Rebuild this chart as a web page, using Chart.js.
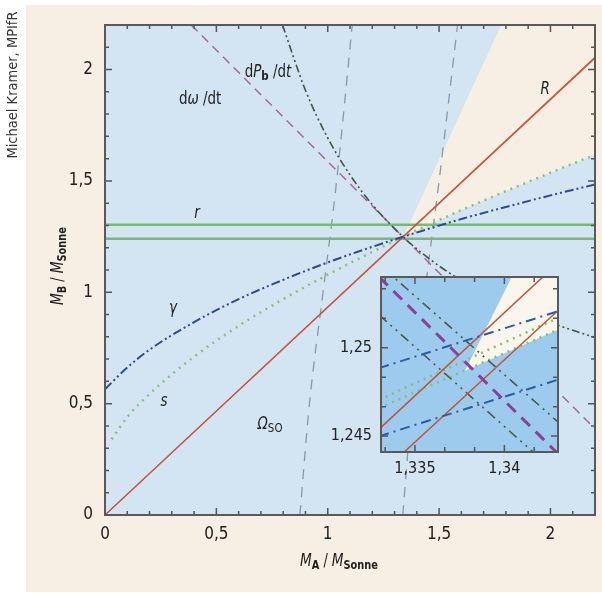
<!DOCTYPE html>
<html><head><meta charset="utf-8">
<script src="https://cdn.jsdelivr.net/npm/chart.js@4.4.1/dist/chart.umd.min.js"></script>
<style>
html,body{margin:0;padding:0;background:#fff;}
#wrap{position:relative;width:602px;height:593px;}
#main{position:absolute;left:0;top:0;}
#inset{position:absolute;left:320px;top:267px;}
</style></head><body>
<div id="wrap"><canvas id="main" width="602" height="593"></canvas><canvas id="inset" width="250" height="215"></canvas></div>
<script>
// ---- axes ----
const xTickVals = [0, 0.5, 1, 1.5, 2];
const yTickVals = [0, 0.5, 1, 1.5, 2];
const insetXTicks = [1.335, 1.34];
const insetYTicks = [1.245, 1.25];

// ---- main diagram curves (M_A, M_B) ----
const rUpperX = [0, 2.2], rUpperY = [1.303, 1.303];
const rLowerX = [0, 2.2], rLowerY = [1.240, 1.240];
const bigR1X = [0, 2.2], bigR1Y = [0, 2.0556];
const bigR2X = [0, 2.2], bigR2Y = [0, 2.0511];
const omegaX = [0.387, 2.2], omegaY = [2.2, 0.387];
const pbX = [0.797, 0.9, 1.0, 1.1, 1.2, 1.338, 1.5, 1.7, 1.9, 2.1, 2.2];
const pbY = [2.2, 1.907, 1.693, 1.527, 1.394, 1.249, 1.118, 0.998, 0.903, 0.829, 0.797];
const gammaX = [0, 0.1, 0.2, 0.4, 0.6, 0.8, 1.0, 1.2, 1.338, 1.6, 1.8, 2.0, 2.2];
const gammaY = [0.565, 0.662, 0.742, 0.866, 0.969, 1.056, 1.134, 1.204, 1.249, 1.329, 1.383, 1.435, 1.484];
const sX = [0.03, 0.1, 0.2, 0.4, 0.6, 0.8, 1.0, 1.2, 1.338, 1.6, 1.8, 2.0, 2.2];
const sY = [0.34, 0.44, 0.543, 0.711, 0.849, 0.969, 1.079, 1.181, 1.249, 1.369, 1.454, 1.537, 1.617];
const so1X = [0.875, 0.918, 0.979, 1.04, 1.11], so1Y = [0, 0.5, 1.0, 1.5, 2.2];
const so2X = [1.337, 1.378, 1.436, 1.50, 1.583], so2Y = [0, 0.5, 1.0, 1.5, 2.2];
const wedgeX = [1.340, 1.779, 2.2, 2.2, 2.0, 1.8, 1.6, 1.45, 1.340];
const wedgeY = [1.250, 2.2, 2.2, 1.617, 1.537, 1.454, 1.369, 1.300, 1.250];

// ---- inset (zoom around the crossing) ----
const inR1X = [1.333, 1.343], inR1Y = [1.2454, 1.2548];
const inR2X = [1.333, 1.343], inR2Y = [1.2428, 1.2521];
const inOmX = [1.333, 1.343], inOmY = [1.254, 1.244];
const inPbAX = [1.333, 1.343], inPbAY = [1.25471, 1.2458];
const inPbBX = [1.333, 1.343], inPbBY = [1.25185, 1.24284];
const inGamAX = [1.333, 1.343], inGamAY = [1.24885, 1.25206];
const inGamBX = [1.333, 1.343], inGamBY = [1.24499, 1.24819];
const inSAX = [1.333, 1.343], inSAY = [1.24706, 1.25168];
const inSBX = [1.333, 1.343], inSBY = [1.24659, 1.25102];
const inWedgeX = [1.3378, 1.34041, 1.343, 1.343, 1.3378];
const inWedgeY = [1.2487, 1.254, 1.254, 1.25102, 1.2487];

const FF = "'Liberation Sans Narrow','DejaVu Sans Condensed',Roboto,sans-serif";
Chart.defaults.font.family = FF;
const it = s => `italic ${s}px ${FF}`, rg = s => `${s}px ${FF}`, bd = s => `bold ${s}px ${FF}`;

const pts = (xs, ys) => xs.map((x, i) => ({x, y: ys[i]}));
const line = (xs, ys, color, w, dash, order, smooth) => ({
    data: pts(xs, ys), showLine: true, borderColor: color, borderWidth: w, borderDash: dash || [],
    pointRadius: 0, fill: false, order, tension: 0,
    cubicInterpolationMode: smooth ? 'monotone' : 'default'
});
const comma = v => String(v).replace('.', ',');
// keep the plot box where the layout padding puts it (labels are not at the ends)
const noPad = s => { s.paddingTop = 0; s.paddingBottom = 0; };

// text with italic / subscript pieces, slightly condensed like the original face
function rich(ctx, segs, x, y, rot, squeeze) {
    ctx.save(); ctx.translate(x, y); ctx.rotate(rot || 0); ctx.scale(squeeze || 0.88, 1);
    let w = 0;
    segs.forEach(s => { ctx.font = s.f; w += ctx.measureText(s.t).width; });
    let cx = -w / 2;
    ctx.textBaseline = 'alphabetic'; ctx.textAlign = 'left';
    segs.forEach(s => { ctx.font = s.f; ctx.fillText(s.t, cx, s.dy || 0); cx += ctx.measureText(s.t).width; });
    ctx.restore();
}

function frameTicks(ctx, c, xs, ys, minor, major) {
    const a = c.chartArea, sx = c.scales.x, sy = c.scales.y;
    ctx.save(); ctx.strokeStyle = '#555'; ctx.lineWidth = 1.5;
    xs.forEach(t => {
        const p = sx.getPixelForValue(t.v), l = t.m ? major : minor;
        ctx.beginPath(); ctx.moveTo(p, a.bottom); ctx.lineTo(p, a.bottom - l);
        ctx.moveTo(p, a.top); ctx.lineTo(p, a.top + l); ctx.stroke();
    });
    ys.forEach(t => {
        const p = sy.getPixelForValue(t.v), l = t.m ? major : minor;
        ctx.beginPath(); ctx.moveTo(a.left, p); ctx.lineTo(a.left + l, p);
        ctx.moveTo(a.right, p); ctx.lineTo(a.right - l, p); ctx.stroke();
    });
    ctx.lineWidth = 2; ctx.strokeStyle = '#595959';
    ctx.strokeRect(a.left, a.top, a.right - a.left, a.bottom - a.top);
    ctx.restore();
}

const mainDeco = {
    id: 'mainDeco',
    beforeDraw(c) {
        const {ctx, chartArea: a} = c;
        ctx.save();
        ctx.fillStyle = '#fff'; ctx.fillRect(0, 0, c.width, c.height);
        ctx.fillStyle = '#f7efe3'; ctx.fillRect(26, 5, 576, 587);
        ctx.fillStyle = '#d3e4f2'; ctx.fillRect(a.left, a.top, a.right - a.left, a.bottom - a.top);
        ctx.restore();
    },
    afterDatasetsDraw(c) {
        const ctx = c.ctx, sx = c.scales.x, sy = c.scales.y;
        const ticks = [];
        for (let k = 0; k <= 22; k++) ticks.push({v: k / 10, m: k % 5 === 0});
        frameTicks(ctx, c, ticks, ticks, 4, 7);
        ctx.save(); ctx.fillStyle = '#222';
        const at = (x, y) => [sx.getPixelForValue(x), sy.getPixelForValue(y) + 6];
        rich(ctx, [{t: 'd', f: rg(17)}, {t: 'ω', f: it(17)}, {t: ' /dt', f: rg(17)}], ...at(0.427, 1.872));
        rich(ctx, [{t: 'd', f: rg(17)}, {t: 'P', f: it(17)}, {t: 'b', f: bd(13), dy: 3}, {t: ' /d', f: rg(17)}, {t: 't', f: it(17)}], ...at(0.732, 1.994));
        rich(ctx, [{t: 'r', f: it(17)}], ...at(0.413, 1.361));
        rich(ctx, [{t: 'R', f: it(17)}], ...at(1.976, 1.917));
        rich(ctx, [{t: 'γ', f: it(17)}], ...at(0.305, 0.934));
        rich(ctx, [{t: 's', f: it(17)}], ...at(0.265, 0.516));
        rich(ctx, [{t: 'Ω', f: it(17)}, {t: 'SO', f: rg(13), dy: 3}], ...at(0.741, 0.413));
        // axis titles
        rich(ctx, [{t: 'M', f: it(18)}, {t: 'A', f: bd(13), dy: 3}, {t: ' / ', f: rg(17)}, {t: 'M', f: it(18)}, {t: 'Sonne', f: bd(13), dy: 3}], 339, 566, 0, 0.84);
        rich(ctx, [{t: 'M', f: it(18)}, {t: 'B', f: bd(13), dy: 3}, {t: ' / ', f: rg(17)}, {t: 'M', f: it(18)}, {t: 'Sonne', f: bd(13), dy: 3}], 63, 266, -Math.PI / 2, 0.84);
        ctx.fillStyle = '#333';
        rich(ctx, [{t: 'Michael Kramer, MPIfR', f: rg(14.5)}], 17, 85, -Math.PI / 2, 1);
        ctx.restore();
    }
};

new Chart(document.getElementById('main'), {
    type: 'scatter',
    data: {
        datasets: [
            Object.assign(line(wedgeX, wedgeY, 'rgba(0,0,0,0)', 0, [], 10), {fill: 'shape', backgroundColor: '#f7efe3'}),
            line(so1X, so1Y, '#8a97a8', 1.3, [10, 8], 8, true),
            line(so2X, so2Y, '#8a97a8', 1.3, [10, 8], 8, true),
            line(rUpperX, rUpperY, '#78b978', 2.5, [], 7),
            line(rLowerX, rLowerY, '#78b978', 2.5, [], 7),
            line(bigR1X, bigR1Y, '#c8553d', 1.2, [], 6),
            line(bigR2X, bigR2Y, '#c8553d', 1.2, [], 6),
            line(omegaX, omegaY, '#a8648f', 1.4, [9, 6], 5),
            line(pbX, pbY, '#44524a', 1.6, [8, 3, 2, 3, 2, 3], 4, true),
            line(sX, sY, '#8dc07d', 2.5, [2, 5], 3, true),
            line(gammaX, gammaY, '#2f4a90', 2, [9, 3, 2, 3, 2, 3], 2, true)
        ]
    },
    options: {
        responsive: false, animation: false, devicePixelRatio: 1,
        layout: {padding: {left: 0, top: 25, right: 7, bottom: 0}},
        plugins: {legend: {display: false}, tooltip: {enabled: false}},
        scales: {
            x: {
                type: 'linear', min: 0, max: 2.2,
                grid: {display: false, drawTicks: false}, border: {display: false},
                afterBuildTicks: s => { s.ticks = xTickVals.map(v => ({value: v})); },
                afterFit: s => { s.height = 78; },
                ticks: {padding: 9, color: '#222', font: {size: 17}, callback: comma, maxRotation: 0, autoSkip: false}
            },
            y: {
                type: 'linear', min: 0, max: 2.2,
                grid: {display: false, drawTicks: false}, border: {display: false},
                afterBuildTicks: s => { s.ticks = yTickVals.map(v => ({value: v})); },
                afterFit: s => { s.width = 105; noPad(s); },
                ticks: {padding: 12, color: '#222', font: {size: 17}, callback: comma, autoSkip: false}
            }
        }
    },
    plugins: [mainDeco]
});

const insetDeco = {
    id: 'insetDeco',
    beforeDraw(c) {
        const {ctx, chartArea: a} = c;
        ctx.save(); ctx.fillStyle = '#9dcbed';
        ctx.fillRect(a.left, a.top, a.right - a.left, a.bottom - a.top); ctx.restore();
    },
    afterDatasetsDraw(c) {
        const xt = [], yt = [];
        for (let k = -1; k <= 4; k++) xt.push({v: 1.335 + k * 0.005 / 3, m: k % 3 === 0});
        for (let k = 0; k <= 5; k++) yt.push({v: 1.245 + k * 0.005 / 3, m: k % 3 === 0});
        frameTicks(c.ctx, c, xt, yt, 5, 7);
    }
};

new Chart(document.getElementById('inset'), {
    type: 'scatter',
    data: {
        datasets: [
            Object.assign(line(inWedgeX, inWedgeY, 'rgba(0,0,0,0)', 0, [], 10), {fill: 'shape', backgroundColor: '#fbf6ec'}),
            line(inSAX, inSAY, '#86c078', 2.5, [2, 5], 7),
            line(inSBX, inSBY, '#86c078', 2.5, [2, 5], 7),
            line(inPbAX, inPbAY, '#4a5a4c', 1.6, [10, 5, 2, 5, 2, 5], 6),
            line(inPbBX, inPbBY, '#4a5a4c', 1.6, [10, 5, 2, 5, 2, 5], 6),
            line(inR1X, inR1Y, '#c0563c', 1.5, [], 5),
            line(inR2X, inR2Y, '#c0563c', 1.5, [], 5),
            line(inGamAX, inGamAY, '#2d5ba6', 2, [10, 5, 2, 5], 4),
            line(inGamBX, inGamBY, '#2d5ba6', 2, [10, 5, 2, 5], 4),
            line(inOmX, inOmY, '#8b4196', 3, [12, 8], 3)
        ]
    },
    options: {
        responsive: false, animation: false, devicePixelRatio: 1,
        layout: {padding: {left: 0, top: 10, right: 12, bottom: 0}},
        plugins: {legend: {display: false}, tooltip: {enabled: false}},
        scales: {
            x: {
                type: 'linear', min: 1.3331, max: 1.343,
                grid: {display: false, drawTicks: false}, border: {display: false},
                afterBuildTicks: s => { s.ticks = insetXTicks.map(v => ({value: v})); },
                afterFit: s => { s.height = 30; },
                ticks: {padding: 7, color: '#222', font: {size: 16}, callback: comma, maxRotation: 0, autoSkip: false}
            },
            y: {
                type: 'linear', min: 1.2441, max: 1.254,
                grid: {display: false, drawTicks: false}, border: {display: false},
                afterBuildTicks: s => { s.ticks = insetYTicks.map(v => ({value: v})); },
                afterFit: s => { s.width = 61; noPad(s); },
                ticks: {padding: 9, color: '#222', font: {size: 16}, callback: comma, autoSkip: false}
            }
        }
    },
    plugins: [insetDeco]
});
</script></body></html>
